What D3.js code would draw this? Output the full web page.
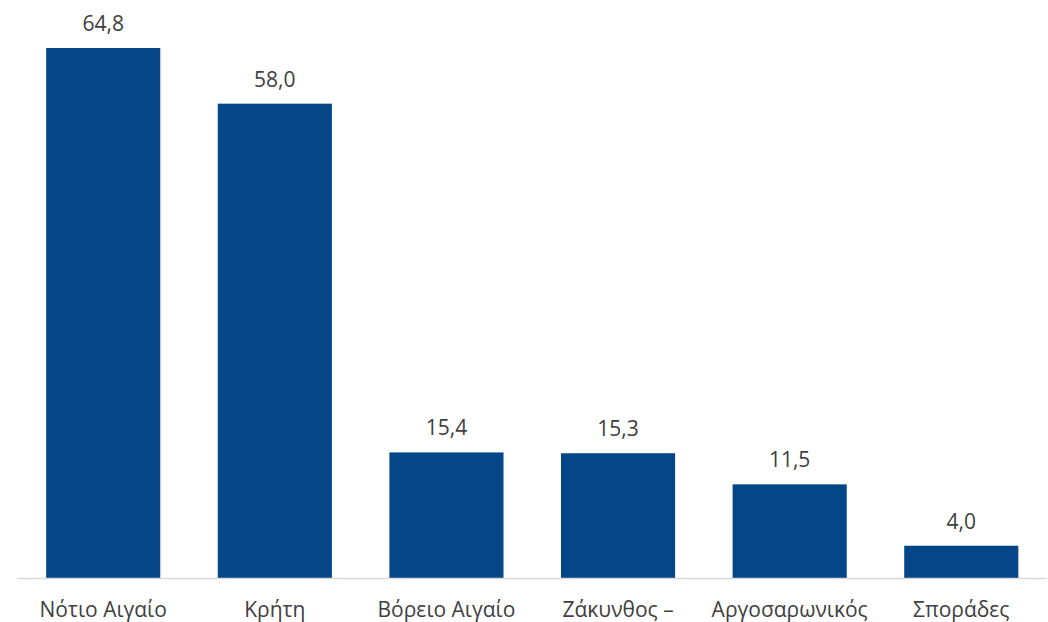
<!DOCTYPE html>
<html><head><meta charset="utf-8">
<script src="https://cdn.jsdelivr.net/npm/d3@7"></script>
<style>body{margin:0;background:#fff}svg{display:block}</style>
</head><body>
<script>
const categories = ["Νότιο Αιγαίο","Κρήτη","Βόρειο Αιγαίο","Ζάκυνθος –","Αργοσαρωνικός","Σποράδες"];
const values = [64.8, 58.0, 15.4, 15.3, 11.5, 4.0];

const W = 1048, H = 622;
const svg = d3.select("body").append("svg").attr("width", W).attr("height", H);
const x = d3.scaleBand().domain(categories).range([17.5, 1047]).paddingInner(0.335).paddingOuter(0.167);
const y = d3.scaleLinear().domain([0, 64.8]).range([578.5, 48]);
const fmt = d => d.toFixed(1).replace(".", ",");

svg.selectAll("rect.bar").data(values).join("rect")
  .attr("x", (d,i) => x(categories[i]))
  .attr("width", x.bandwidth())
  .attr("y", d => y(d))
  .attr("height", d => y(0) - y(d))
  .attr("fill", "#044688");

svg.append("line").attr("x1", 17.5).attr("x2", 1047).attr("y1", 578.5).attr("y2", 578.5)
  .attr("stroke", "#d9d9d9").attr("stroke-width", 1.3);

svg.selectAll("text.val").data(values).join("text")
  .attr("x", (d,i) => x(categories[i]) + x.bandwidth()/2)
  .attr("y", d => y(d) - 17)
  .attr("text-anchor", "middle")
  .attr("font-family", "'Open Sans', sans-serif")
  .attr("font-size", 21)
  .attr("fill", "#404040")
  .text(fmt);

svg.selectAll("text.cat").data(categories).join("text")
  .attr("x", d => x(d) + x.bandwidth()/2)
  .attr("y", 617)
  .attr("text-anchor", "middle")
  .attr("font-family", "'Open Sans', sans-serif")
  .attr("font-size", 21)
  .attr("fill", "#404040")
  .text(d => d);
</script>
</body></html>
